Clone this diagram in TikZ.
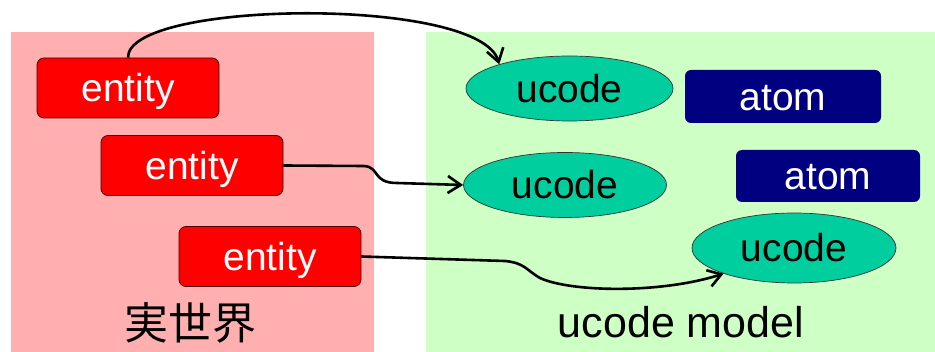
\documentclass[tikz,border=0pt]{standalone}
\usepackage{fontspec}
\setmainfont{Liberation Sans}
\newfontfamily\cjk{Noto Sans CJK JP}
\usetikzlibrary{shapes.geometric,arrows.meta}

\definecolor{realpink}{RGB}{255,175,175}
\definecolor{modelgreen}{RGB}{206,255,196}
\definecolor{entityred}{RGB}{255,0,0}
\definecolor{ucodeteal}{RGB}{0,206,158}
\definecolor{atomnavy}{RGB}{0,0,128}

\tikzset{
  labeltext/.style={inner sep=0pt, text height=28pt, text depth=0pt,
    font=\fontsize{39}{44}\selectfont},
  entitybox/.style={labeltext, rectangle, rounded corners=7pt, draw=black!70!red,
    line width=0.8pt, fill=entityred, text=white, minimum width=182pt, minimum height=60pt},
  ucodenode/.style={labeltext, ellipse, draw=black!80, line width=0.7pt,
    fill=ucodeteal, text=black},
  atombox/.style={labeltext, rectangle, rounded corners=6pt, fill=atomnavy, text=white},
  link/.style={draw=black, line width=2.6pt,
    -{Straight Barb[length=13pt,width=17pt,line width=2.6pt]}},
  caption/.style={font=\fontsize{43}{48}\selectfont, text=black, inner sep=0pt}
}

\begin{document}
\begin{tikzpicture}[x=1pt, y=-1pt]
  \useasboundingbox (0,0) rectangle (935,352);
  \fill[white] (0,0) rectangle (935,352);

  % the two panels
  \fill[realpink] (11,32) rectangle (374,352);
  \fill[modelgreen] (426,32) rectangle (935,352);

  % real-world entities
  \node[entitybox] (e1) at (128,88) {entity};
  \node[entitybox] (e2) at (192,165.5) {entity};
  \node[entitybox] (e3) at (270,256.5) {entity};

  % ucode model
  \node[ucodenode, minimum width=207pt, minimum height=65pt] (u1) at (569.5,88.5) {ucode};
  \node[ucodenode, minimum width=203pt, minimum height=65pt] (u2) at (565,185) {ucode};
  \node[ucodenode, minimum width=204pt, minimum height=70pt] (u3) at (794,248) {ucode};

  \node[atombox, minimum width=196pt, minimum height=53pt] (a1) at (783,96.5) {atom};
  \node[atombox, minimum width=184pt, minimum height=52pt] (a2) at (828,176) {atom};

  % captions
  \node[caption, font=\cjk\fontsize{44}{48}\selectfont] (lreal) at (190,323) {実世界};
  \node[caption] (lmodel) at (681,322) {ucode model};

  % mappings
  \draw[link] (e1.north) .. controls (127,0) and (480,-4) .. (u1.161);
  \draw[link] (e2.east) -- (364,166) .. controls (380,167) and (372,183) .. (397,183) -- (u2.west);
  \draw[link] (e3.east) -- (505,261) .. controls (525,263) and (526,270) .. (540,278)
     .. controls (570,292) and (660,294) .. (u3.200);
\end{tikzpicture}
\end{document}
